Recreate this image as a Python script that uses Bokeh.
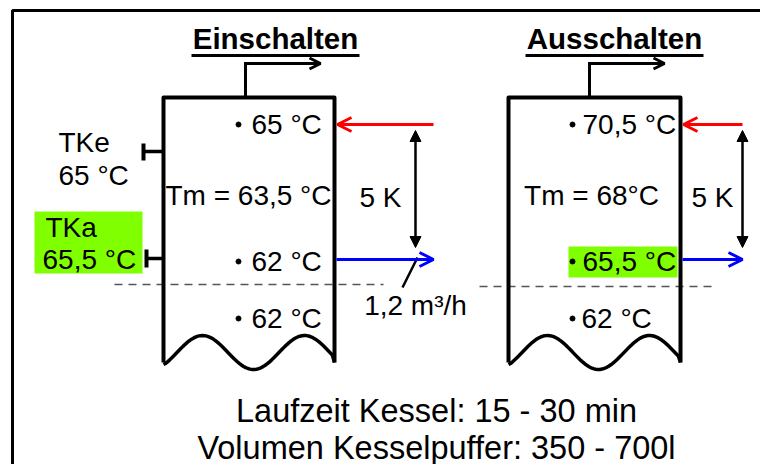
import numpy as np
from bokeh.plotting import figure
from bokeh.models import Range1d, Arrow, OpenHead, NormalHead
from bokeh.core.properties import value
from bokeh.embed import file_html
from bokeh.resources import INLINE

# ---- content ----
titles = ["Einschalten", "Ausschalten"]
top_temps = ["65 °C", "70,5 °C"]
mean_temps = ["Tm = 63,5 °C", "Tm = 68°C"]
mid_temps = ["62 °C", "65,5 °C"]
bottom_temps = ["62 °C", "62 °C"]
delta_labels = ["5 K", "5 K"]
flow_label = "1,2 m³/h"
sensor_e = ["TKe", "65 °C"]
sensor_a = ["TKa", "65,5 °C"]
footer = ["Laufzeit Kessel: 15 - 30 min", "Volumen Kesselpuffer: 350 - 700l"]

# ---- layout (pixel-like coordinates) ----
FONT = value("Liberation Sans")
GREEN = "#80ff00"
tank_l = [163, 508]
tank_r = [334, 680]
tank_top = 97
wall_bot = 362
outlet_x = [245, 589]
rows_y = [124, 195, 261, 318]
bullet_x = [238, 572]
text_x = [251, 582]
tm_cx = [248, 591]
arrow_x = [433, 742]
dk_x = [415, 742]
dk_lbl = [380, 712]
title_cx = [275, 614]
title_half = [84, 89]

p = figure(width=760, height=464, x_range=Range1d(0, 760), y_range=Range1d(464, 0),
           output_backend="svg", toolbar_location=None, min_border=0)
p.axis.visible = False
p.grid.visible = False
p.outline_line_color = None
p.background_fill_color = "white"

# outer frame
p.line([768, 12, 12], [10, 10, 472], line_color="black", line_width=3)

def txt(x, y, s, size="28px", align="left", style="normal", color="black"):
    p.text(x=[x], y=[y], text=[s], text_font=FONT, text_font_size=size,
           text_align=align, text_baseline="middle", text_color=color,
           text_font_style=style)

# green highlight boxes
p.quad(left=[34], right=[142], top=[211], bottom=[273], fill_color=GREEN, line_color=None)
p.quad(left=[568], right=[677], top=[246], bottom=[277], fill_color=GREEN, line_color=None)

# dashed level lines
p.line([114, 383], [284, 284], line_color="#555555", line_width=1.5, line_dash="8 6")
p.line([479, 716], [286, 286], line_color="#555555", line_width=1.5, line_dash="8 6")

for i in range(2):
    l, r = tank_l[i], tank_r[i]
    # walls and top
    p.line([l, l, r, r], [wall_bot, tank_top, tank_top, wall_bot],
           line_color="black", line_width=4, line_join="round")
    # wavy bottom
    wx = np.linspace(l, r, 80)
    wy = 352 - 17 * np.cos(2 * np.pi * (wx - (l + 39)) / 102)
    wave_y = list(wy)
    wave_y[0] = wall_bot + 2
    wave_y[-1] = wall_bot
    p.line(list(wx), wave_y, line_color="black", line_width=3.5, line_join="round")
    # outlet pipe
    ox = outlet_x[i]
    p.line([ox, ox], [tank_top, 63], line_color="black", line_width=3)
    p.add_layout(Arrow(end=OpenHead(size=11, line_width=3, line_color="black"),
                       x_start=ox - 1.5, y_start=63, x_end=ox + 75, y_end=63,
                       line_width=3, line_color="black"))
    # title with underline
    txt(title_cx[i], 38, titles[i], size="29.5px", align="center", style="bold")
    p.line([title_cx[i] - title_half[i], title_cx[i] + title_half[i]], [55, 55],
           line_color="black", line_width=3)
    # temperatures
    p.scatter([bullet_x[i]] * 3, [rows_y[0], rows_y[2], rows_y[3]], size=5,
              color="black")
    txt(text_x[i], rows_y[0], top_temps[i])
    txt(text_x[i], rows_y[2], mid_temps[i])
    txt(text_x[i] - (1 if i else 0), rows_y[3], bottom_temps[i])
    txt(tm_cx[i], rows_y[1], mean_temps[i], align="center")
    # inflow (red) and outflow (blue)
    p.add_layout(Arrow(end=OpenHead(size=14, line_width=3, line_color="red"),
                       x_start=arrow_x[i], y_start=124, x_end=r + 3, y_end=124,
                       line_width=3, line_color="red"))
    p.add_layout(Arrow(end=OpenHead(size=14, line_width=3, line_color="blue"),
                       x_start=r + 2, y_start=259, x_end=arrow_x[i], y_end=259,
                       line_width=3, line_color="blue"))
    # temperature difference
    p.add_layout(Arrow(start=NormalHead(size=11, fill_color="black", line_color="black"),
                       end=NormalHead(size=11, fill_color="black", line_color="black"),
                       x_start=dk_x[i], y_start=130, x_end=dk_x[i], y_end=247,
                       line_width=2.5, line_color="black"))
    txt(dk_lbl[i], 197, delta_labels[i], align="center")

# flow label and pointer
p.line([417, 402], [257, 287], line_color="black", line_width=2.5)
txt(415, 305, flow_label, align="center")

# sensors
txt(58, 142, sensor_e[0])
txt(58, 175, sensor_e[1])
txt(45, 227, sensor_a[0])
txt(42, 259, sensor_a[1])
p.line([143, 163], [151, 151], line_color="black", line_width=3.5)
p.line([143, 143], [143, 160], line_color="black", line_width=4)
p.line([146, 163], [258, 258], line_color="black", line_width=3.5)
p.line([146, 146], [249, 267], line_color="black", line_width=4)

# footer
txt(436, 410, footer[0], size="32.5px", align="center")
txt(436, 447, footer[1], size="32.5px", align="center")

open("out.html", "w").write(file_html(p, INLINE))
